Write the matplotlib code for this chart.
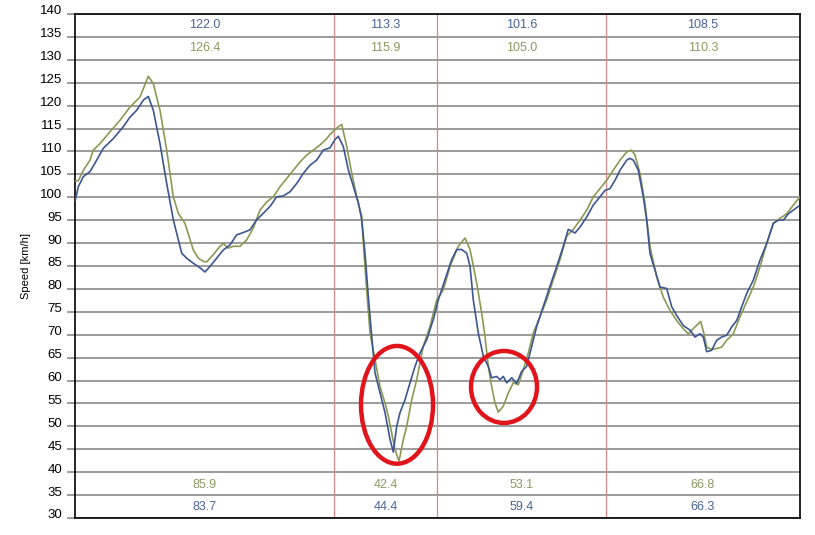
import matplotlib.pyplot as plt
from matplotlib.patches import Ellipse
from matplotlib.transforms import ScaledTranslation

# distance along the route (arbitrary units) and speed readings
blue_pos = [0, 3.3, 8.3, 15, 21.7, 28.3, 38.3, 48.3, 55, 61.7, 68.3, 73.3, 78.3, 85, 91.7, 98.3,
            106.7, 111.7, 118.3, 125, 130, 135, 141.7, 148.3, 155, 161.7, 168.3, 175, 181.7, 188.3,
            195, 201.7, 208.3, 215, 221.7, 228.3, 235, 241.7, 248.3,
            255, 260, 263.3, 268.3, 273.3, 278.3, 283.3, 286.7, 290, 293.3, 296.7, 300, 305, 310,
            315, 318.3, 321.7, 325, 330, 335, 340, 345, 351.7, 358.3, 363.3, 370, 376.7, 381.7,
            386.7, 391.7, 395, 398.3, 403.3, 408.3, 413.3, 416.7, 421.7, 425, 428.3, 431.7, 436.7,
            441.7, 446.7, 451.7, 456.7, 461.7, 468.3, 475, 481.7, 488.3, 493.3, 500,
            505, 511.7, 518.3, 525, 530, 535, 540, 545, 551.7, 555, 558.3, 563.3, 568.3, 571.7,
            575, 580, 585, 591.7, 596.7, 601.7, 608.3, 615, 620, 625, 628.3, 631.7, 636.7, 641.7,
            646.7, 651.7, 656.7, 661.7, 666.7, 671.7, 678.3, 685, 691.7, 698.3, 703.3, 708.3,
            713.3, 718.3, 723.3]
blue_speed = [99.1, 102.3, 104.5, 105.6, 108.1, 110.7, 112.8, 115.4, 117.5, 119.0, 121.2, 122.0,
              119.0, 111.7, 103.0, 95.1, 87.8, 86.7, 85.6, 84.6, 83.7, 84.9, 86.7, 88.5, 89.6,
              91.8, 92.3, 92.9, 95.1, 96.5, 98.0, 100.1, 100.3, 101.2, 103.0, 105.2, 107.0, 108.1,
              110.3,
              110.8, 112.6, 113.3, 111.1, 106.0, 102.4, 98.8, 95.1, 87.8, 78.4, 69.7, 61.7, 57.3,
              53.0, 47.2, 44.4, 50.0, 53.0, 55.8, 59.5, 63.1, 66.0, 68.9, 73.3, 77.6, 82.0, 86.4,
              88.6, 88.6, 87.8, 85.0, 77.6, 70.4, 65.3, 63.1, 60.6, 60.9, 60.2, 60.9, 59.5, 60.6,
              59.4, 62.0, 63.1, 67.5, 71.8, 76.2, 80.6, 84.9, 89.3, 93.0, 92.2,
              93.5, 95.7, 98.3, 100.1, 101.5, 101.9, 103.7, 105.9, 108.1, 108.5, 108.1, 105.9,
              100.1, 95.0, 87.7, 84.1, 80.4, 80.1, 76.1, 74.2, 72.0, 71.0, 69.5, 70.2, 69.5, 66.3,
              66.6, 68.8, 69.5, 69.9, 71.7, 73.1, 76.1, 79.0, 81.9, 86.3, 89.9, 94.3, 95.0, 95.0,
              96.4, 97.2, 98.0]

green_pos = [0, 3.3, 8.3, 15, 18.3, 25, 35, 45, 55, 65, 73.3, 78.3, 85, 91.7, 98.3, 103.3, 110,
             118.3, 123.3, 128.3, 131.7, 138.3, 145, 148.3, 153.3, 158.3, 165, 171.7, 178.3, 185,
             191.7, 198.3, 205, 211.7, 218.3, 225, 231.7, 238.3, 245, 251.7,
             255, 261.7, 266.7, 271.7, 276.7, 281.7, 286.7, 288.3, 291.7, 295, 300, 305, 310,
             313.3, 316.7, 320, 324, 328.3, 331.7, 336.7, 341.7, 348.3, 355, 361.7, 368.3, 375,
             383.3, 390, 395, 401.7, 406.7, 410, 413.3, 416.7, 420, 423.3, 428.3, 433.3, 438.3,
             443.3, 448.3, 453.3, 458.3, 465, 471.7, 478.3, 485, 491.7, 498.3,
             505, 511.7, 518.3, 525, 531.7, 538.3, 545, 551.7, 556.7, 560, 565, 570, 575, 581.7,
             588.3, 595, 601.7, 608.3, 613.3, 620, 625.7, 629, 631.7, 636.7, 641.7, 646.7, 651.7,
             658.3, 665, 671.7, 678.3, 685, 691.7, 698.3, 705, 711.7, 718.3, 725]
green_speed = [103.6, 103.6, 105.9, 108.1, 110.3, 111.7, 114.3, 116.8, 119.7, 121.9, 126.4, 124.8,
               119.0, 110.3, 100.1, 96.5, 94.3, 88.5, 86.7, 86.0, 85.9, 87.5, 89.3, 89.9, 88.9,
               89.3, 89.3, 90.7, 93.3, 97.2, 99.0, 100.1, 102.3, 104.1, 105.9, 107.7, 109.2, 110.3,
               111.4, 112.8,
               113.7, 115.1, 115.9, 111.1, 105.3, 100.2, 95.9, 90.0, 79.8, 70.4, 64.6, 58.7, 55.1,
               52.2, 48.5, 44.9, 42.4, 47.1, 50.0, 55.8, 60.2, 67.5, 71.8, 77.6, 79.8, 84.9, 89.3,
               91.1, 88.6, 81.3, 74.7, 69.6, 63.1, 58.7, 55.1, 53.1, 54.4, 57.3, 59.5, 59.1, 62.4,
               66.0, 70.4, 74.0, 77.6, 82.0, 86.4, 91.5, 93.0,
               95.0, 97.2, 100.1, 101.9, 103.7, 105.9, 108.1, 109.9, 110.3, 109.2, 105.2, 98.6,
               89.2, 82.6, 78.2, 75.3, 73.1, 71.3, 70.2, 71.7, 72.9, 70.2, 67.3, 66.8, 67.0, 67.3,
               68.8, 70.2, 73.9, 77.2, 80.4, 84.8, 89.9, 94.3, 95.4, 96.4, 98.3, 100.1]

# section boundaries and per-section max/min labels
section_edges = [0, 259, 362, 531, 725]
blue_max = ["122.0", "113.3", "101.6", "108.5"]
green_max = ["126.4", "115.9", "105.0", "110.3"]
green_min = ["85.9", "42.4", "53.1", "66.8"]
blue_min = ["83.7", "44.4", "59.4", "66.3"]

BLUE = "#3b5690"
GREEN = "#8a9a52"
BLUE_TXT = "#4a6496"
GREEN_TXT = "#8b9a62"

plt.rcParams['font.family'] = ['Liberation Sans', 'DejaVu Sans']
fig = plt.figure(figsize=(8.15, 5.35), dpi=100)
ax = fig.add_axes([75 / 815, 1 - 518 / 535, 725 / 815, 504 / 535])

ax.set_xlim(section_edges[0], section_edges[-1])
ax.set_ylim(30, 140)
ax.set_yticks(range(30, 141, 5))
ax.set_xticks([])
ax.grid(axis='y', color='#808080', linewidth=1.1)
ax.set_axisbelow(True)
ax.tick_params(axis='y', length=6, width=1.1, color='#808080', pad=3, labelsize=9.5)
for lbl in ax.get_yticklabels():
    lbl.set_transform(lbl.get_transform() + ScaledTranslation(0, 4 / 100, fig.dpi_scale_trans))
for s in ax.spines.values():
    s.set_color('black')
    s.set_linewidth(1.2)

for e in section_edges[1:-1]:
    ax.axvline(e, color='#d88a8a', linewidth=0.9, zorder=1)

ax.plot(green_pos, green_speed, color=GREEN, linewidth=1.2, zorder=3)
ax.plot(blue_pos, blue_speed, color=BLUE, linewidth=1.2, zorder=4)

for i in range(4):
    cx = (section_edges[i] + section_edges[i + 1]) / 2
    ax.text(cx, 137.5, blue_max[i], color=BLUE_TXT, ha='center', va='center', fontsize=9)
    ax.text(cx, 132.5, green_max[i], color=GREEN_TXT, ha='center', va='center', fontsize=9)
    ax.text(cx, 37.3, green_min[i], color=GREEN_TXT, ha='center', va='center', fontsize=9)
    ax.text(cx, 32.3, blue_min[i], color=BLUE_TXT, ha='center', va='center', fontsize=9)

ax.set_ylabel("Speed [km/h]", fontsize=8, labelpad=7)

# hand-drawn highlight circles
ax.add_patch(Ellipse((322, 54.7), 72, 25.7, fill=False, edgecolor='#e0141a', linewidth=3.2, zorder=5))
ax.add_patch(Ellipse((429, 58.6), 66, 15.7, fill=False, edgecolor='#e0141a', linewidth=3.2, zorder=5))

fig.savefig("out.png", dpi=100)
